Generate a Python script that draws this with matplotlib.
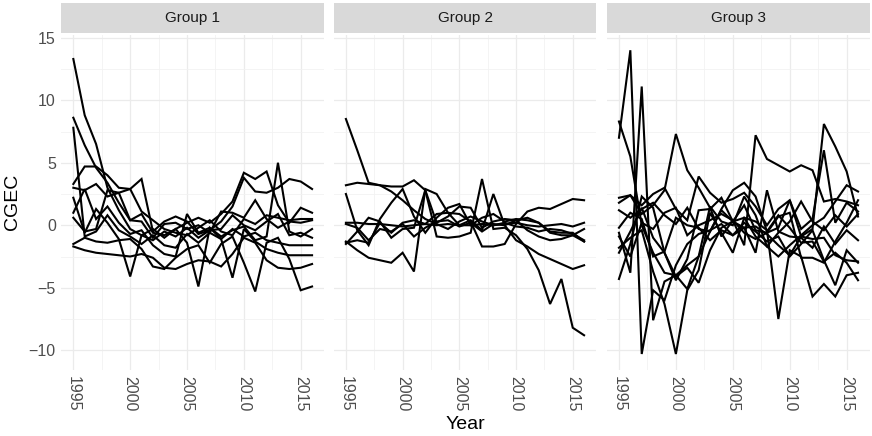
import matplotlib
matplotlib.use('Agg')
import matplotlib.pyplot as plt
from matplotlib.ticker import MultipleLocator

plt.rcParams['font.family'] = ['Liberation Sans', 'DejaVu Sans']

# Daten: CGEC je Land, 1995-2016, drei Gruppen
years = list(range(1995, 2017))
groups = ['Group 1', 'Group 2', 'Group 3']

group_1 = [
    [13.3, 8.8, 6.5, 3.0, 1.2, -0.3, -0.8, -1.2, -0.5, -0.9, -0.2, -1.0, -0.4, 0.3, 1.5, 3.8, 2.7, 2.6, 3.0, 3.7, 3.5, 2.9],
    [8.6, 6.4, 4.6, 3.4, 1.8, 0.4, 0.9, -0.6, -0.8, -0.3, 0.2, 0.6, 0.2, 0.9, 1.9, 4.2, 3.7, 4.3, 1.6, 0.2, 1.4, 1.0],
    [7.8, -0.9, -0.5, 0.8, -0.4, -0.9, -1.5, -0.8, -1.6, -1.8, -0.7, -1.4, -0.6, -1.1, -0.3, -0.9, -0.6, -1.2, -1.4, -1.6, -1.6, -1.6],
    [3.3, 4.7, 4.7, 4.0, 3.0, 2.9, 1.1, 0.4, -0.3, -0.6, -0.8, -0.2, 0.4, -0.5, -0.8, 0.5, 0.1, 0.8, 0.6, 0.4, 0.5, 0.5],
    [3.0, 2.8, 3.3, 2.3, 2.6, 2.9, 3.7, -0.5, 0.3, 0.7, 0.3, -0.7, -0.4, -0.3, 0.8, 0.0, -0.4, 0.3, 0.9, -0.8, -0.6, -1.0],
    [2.2, -0.6, 1.3, 0.2, -1.1, -4.1, -0.8, -0.3, -1.0, -0.3, -1.4, -4.9, -0.2, -0.9, -0.4, -0.1, -1.2, -0.9, 5.0, -0.5, -0.9, -0.3],
    [1.0, 2.9, 0.5, 1.5, 0.2, -0.7, -0.4, -1.6, -2.3, -2.5, 0.9, -0.6, -0.2, -1.1, -4.2, -0.3, -1.3, -1.9, -2.2, -2.4, -2.4, -2.4],
    [-1.7, -2.0, -2.2, -2.3, -2.4, -2.5, -2.3, -2.6, -3.4, -3.5, -3.1, -2.8, -2.9, -3.3, -2.3, -1.0, -1.4, -2.8, -3.4, -3.5, -3.4, -3.1],
    [-1.5, -1.0, -1.3, -1.4, -1.2, -1.1, -1.9, -3.3, -3.5, -2.6, -1.9, -1.6, -3.0, -1.5, -0.9, -3.0, -5.3, -1.4, -1.0, -2.7, -5.2, -4.9],
    [0.6, -0.5, -0.3, 2.8, 2.6, 0.4, 0.3, -1.0, 0.1, 0.2, -0.3, 0.0, -0.6, 1.1, 1.0, 0.6, 2.0, 0.5, -0.2, 0.3, 0.2, 0.4],
]

group_2 = [
    [8.5, 6.0, 3.4, 3.2, 2.7, 2.0, 1.2, 0.5, 0.1, -0.3, 0.3, 0.7, 0.3, 0.0, 0.2, -0.1, -0.2, -0.5, -0.3, -0.4, -0.7, -1.2],
    [3.2, 3.4, 3.3, 3.2, 3.1, 3.1, 3.6, 2.8, 0.2, 0.7, 1.5, 1.4, -0.2, 0.3, 0.5, 0.4, 0.6, 0.2, -0.5, -0.6, -0.6, -1.3],
    [2.5, -0.4, -1.6, 0.5, 1.8, 2.9, 0.7, -0.6, 0.6, 1.4, 1.7, 0.0, 0.6, 0.9, 0.3, 0.5, 0.4, 0.2, -0.6, -0.8, -0.8, -0.3],
    [0.2, 0.2, 0.1, 0.1, 0.0, -0.1, 0.0, 0.1, 0.0, 0.1, 0.0, 0.0, 0.1, 0.0, 0.1, 0.2, 0.0, -0.1, 0.0, 0.1, -0.1, 0.2],
    [-1.5, -0.5, 0.6, 0.3, -1.0, -0.3, -0.2, 2.8, -0.9, -1.0, -0.9, -0.6, 3.7, -0.3, -0.2, -0.8, -1.9, -3.6, -6.3, -4.3, -8.2, -8.8],
    [-1.3, -2.0, -2.6, -2.8, -3.0, -2.2, -3.7, 2.9, 2.5, 1.0, 0.0, 0.4, -0.4, 2.5, 0.0, -1.2, -1.7, -2.3, -2.7, -3.1, -3.5, -3.2],
    [-1.4, -1.2, -1.4, 0.2, -0.6, 0.2, 0.4, 0.1, 0.9, 1.0, 0.9, 0.3, -1.7, -1.7, -1.5, 0.1, 1.1, 1.4, 1.3, 1.7, 2.1, 2.0],
    [0.1, -0.2, -1.2, -0.3, -0.5, 0.1, -0.9, -0.2, 0.3, 0.4, -0.1, 0.2, -0.5, 0.1, 0.0, 0.4, -0.4, -0.9, -1.2, -1.1, -0.8, -1.3],
]

group_3 = [
    [7.0, 14.0, -10.3, -5.2, -6.0, -3.2, -1.5, -0.7, -0.4, 0.1, -0.8, 0.2, -0.5, -1.3, -0.9, -2.5, -1.5, -0.4, -2.8, -4.8, -2.0, -3.0],
    [-0.6, -3.8, 11.1, -7.6, -4.5, -4.0, -3.2, -2.5, 1.5, 0.3, 0.0, 2.3, 0.8, -1.7, -2.5, -1.6, -0.8, 0.0, 0.6, 1.9, 3.2, 2.7],
    [8.3, 5.5, 0.0, -2.2, -3.8, -4.0, -5.1, -2.5, -0.5, 1.2, 0.3, 1.6, -0.4, -0.6, -0.2, 2.0, -0.3, 0.5, 6.0, 0.2, 1.8, 1.1],
    [1.8, 2.4, 0.9, 1.6, 2.8, 7.3, 4.4, 3.0, 1.4, -0.9, 0.4, -1.6, 7.2, 5.3, 4.8, 4.3, 4.8, 4.4, 1.9, 2.1, 1.9, 1.6],
    [2.2, 2.4, 1.6, 2.5, 3.0, 1.3, 0.4, 3.9, 2.6, 1.8, 2.1, 2.6, 1.5, 0.0, 1.3, 2.0, -0.9, -1.1, -1.0, -2.4, -2.8, -2.9],
    [1.2, 0.6, 1.3, 1.8, 0.8, 0.1, 1.4, -0.3, -0.5, 1.3, 2.8, 3.4, 2.3, -0.5, 0.8, -0.2, -1.4, -1.3, -2.9, -2.2, -3.0, -4.4],
    [-0.2, 1.0, 0.5, -2.5, -2.1, 0.6, 0.0, -0.2, -1.2, -0.4, -0.8, -0.2, -2.2, 2.8, -0.5, -0.9, -1.0, -1.8, -0.1, -1.5, -0.4, -1.2],
    [-1.8, -1.0, -0.4, -3.7, -6.3, -10.3, -5.2, -3.6, 1.0, -0.6, -2.2, 0.6, 0.3, -0.4, -7.5, -2.0, -2.5, -5.7, -4.7, -5.7, -4.0, -3.8],
    [-2.2, -0.5, 1.4, -1.0, -2.2, -4.1, -3.4, -4.6, -2.0, -0.2, 0.3, 0.6, -0.9, -1.7, -0.6, 0.3, 1.9, 0.3, -0.4, 0.8, -0.1, 0.9],
    [-0.9, -2.5, 0.2, -0.3, 1.0, 1.4, -0.8, 0.0, 0.4, 0.9, 0.4, -0.6, -1.1, -0.6, 0.7, 1.0, -2.6, -2.6, -3.0, -1.3, 0.2, 2.0],
    [-4.3, -1.5, 2.3, 1.4, -2.2, -4.4, -2.7, 1.2, 1.3, 2.2, 0.3, -0.2, -0.1, -0.7, -1.6, -2.4, -0.9, -0.3, 8.1, 6.3, 4.3, 0.7],
]

data = [group_1, group_2, group_3]

W, H = 872, 436
fig = plt.figure(figsize=(W / 100, H / 100), dpi=100)

# Panelgrenzen in Pixeln
panel_x = [(61.4, 324), (334, 596), (607, 870)]
top, bottom = 35, 370
strip_top = 1

for i, (x0, x1) in enumerate(panel_x):
    ax = fig.add_axes([x0 / W, 1 - bottom / H, (x1 - x0) / W, (bottom - top) / H])
    for series in data[i]:
        ax.plot(years, series, color='black', lw=1.5, solid_joinstyle='miter')
    ax.set_xlim(1993.95, 2017.05)
    ax.set_ylim(-11.58, 15.22)
    ax.xaxis.set_major_locator(MultipleLocator(5))
    ax.xaxis.set_minor_locator(MultipleLocator(2.5))
    ax.yaxis.set_major_locator(MultipleLocator(5))
    ax.yaxis.set_minor_locator(MultipleLocator(2.5))
    ax.grid(which='major', color='#EBEBEB', lw=0.9)
    ax.grid(which='minor', color='#F2F2F2', lw=0.6)
    ax.set_axisbelow(True)
    for s in ax.spines.values():
        s.set_visible(False)
    ax.tick_params(which='both', length=0, labelsize=11.5, labelcolor='#4D4D4D', pad=4)
    ax.tick_params(axis='x', labelrotation=270)
    ax.set_xticks([1995, 2000, 2005, 2010, 2015])
    if i > 0:
        ax.set_yticklabels([])

    # Facet-Streifen
    sax = fig.add_axes([x0 / W, 1 - top / H + 0.004, (x1 - x0) / W, (top - strip_top) / H - 0.008])
    sax.set_facecolor('#D9D9D9')
    sax.set_xticks([])
    sax.set_yticks([])
    for s in sax.spines.values():
        s.set_visible(False)
    sax.text(0.5, 0.5, groups[i], ha='center', va='center', fontsize=11, color='#1A1A1A',
             transform=sax.transAxes)

fig.text((61.4 + 870) / 2 / W, 1 - 424 / H, 'Year', ha='center', va='center', fontsize=14)
fig.text(12 / W, 1 - 202 / H, 'CGEC', ha='center', va='center', fontsize=14, rotation=90)

fig.savefig('out.png', dpi=100)
